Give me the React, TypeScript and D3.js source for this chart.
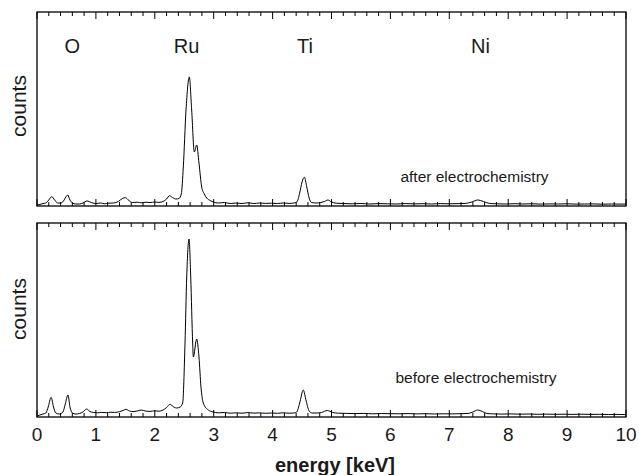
import React from "react";
import * as d3 from "d3";

const energyAfter = [0.00,0.05,0.10,0.15,0.20,0.25,0.30,0.35,0.40,0.45,0.49,0.52,0.56,0.60,0.66,0.72,0.78,0.85,0.92,1.00,1.08,1.15,1.22,1.30,1.38,1.45,1.50,1.56,1.62,1.70,1.78,1.85,1.92,2.00,2.07,2.14,2.20,2.25,2.30,2.36,2.41,2.45,2.484,2.53,2.586,2.626,2.671,2.711,2.75,2.796,2.84,2.881,2.94,2.993,3.08,3.18,3.28,3.38,3.48,3.58,3.68,3.78,3.88,3.98,4.08,4.18,4.28,4.36,4.41,4.46,4.50,4.54,4.58,4.62,4.66,4.74,4.82,4.88,4.94,5.00,5.08,5.2,5.35,5.5,5.65,5.8,5.95,6.1,6.25,6.4,6.55,6.7,6.85,7.0,7.15,7.28,7.38,7.48,7.58,7.68,7.8,7.95,8.1,8.25,8.4,8.55,8.7,8.85,9.0,9.15,9.3,9.45,9.6,9.75,9.9,10.0];
const countsAfter = [1.0,1.5,2.5,3.0,6.0,9.3,6.0,3.0,3.0,5.0,9.0,11.0,6.0,3.0,2.0,2.0,3.0,5.0,3.5,2.5,3.0,2.2,2.8,3.0,4.5,7.5,8.3,5.5,3.5,3.8,3.2,3.8,3.4,4.0,3.6,4.5,7.0,10.3,8.5,7.0,7.5,12,39,96,129,96,54,61,43,19,12,8,5.5,4,3,3.5,2.5,3.0,2.5,3.2,2.5,3.0,2.6,2.8,2.5,3.0,2.6,3.0,4.0,13,24,28.7,19,8,3.5,3.0,3.5,4.5,6.0,4.0,2.8,2.5,2.2,2.5,2.0,2.4,2.2,2.0,2.4,2.1,2.3,2.0,2.4,2.2,2.4,2.6,4.0,6.0,4.5,2.6,2.2,2.0,2.3,2.0,2.2,1.9,2.1,2.0,2.2,1.9,2.0,2.1,1.8,2.0,1.9,2.0];

const energyBefore = [0.00,0.05,0.10,0.15,0.19,0.24,0.28,0.32,0.38,0.44,0.48,0.526,0.56,0.60,0.66,0.72,0.78,0.84,0.90,0.96,1.03,1.10,1.18,1.25,1.32,1.40,1.46,1.51,1.57,1.63,1.70,1.77,1.84,1.92,2.00,2.07,2.14,2.20,2.26,2.31,2.37,2.43,2.473,2.513,2.542,2.581,2.61,2.643,2.654,2.711,2.75,2.784,2.823,2.908,2.99,3.08,3.18,3.28,3.38,3.48,3.58,3.68,3.78,3.88,3.98,4.08,4.18,4.28,4.36,4.41,4.46,4.52,4.57,4.62,4.67,4.75,4.83,4.93,5.02,5.12,5.25,5.4,5.55,5.7,5.85,6.0,6.15,6.3,6.45,6.6,6.75,6.9,7.05,7.2,7.32,7.4,7.48,7.56,7.64,7.75,7.9,8.05,8.2,8.35,8.5,8.65,8.8,8.95,9.1,9.25,9.4,9.55,9.7,9.85,10.0];
const countsBefore = [1.0,2.0,3.0,4.0,10,19.7,10,4,3,5,13,22,10,4,3,3.5,5,8,5.5,4.5,4.2,4.6,4.3,4.8,4.6,5.3,6.5,7.7,6,5.4,6,7,6,5.6,6.2,5.8,7,9.5,12.7,10.5,9,10,14,74,140,178,140,74,60,78,60,30,14,7,5,4.2,4.5,3.8,4.2,3.8,4.4,3.9,4.1,3.7,4.0,3.7,4.2,3.8,4.0,5,14,27,16,6,4,4,4.5,6.5,4.5,3.8,3.6,3.4,3.6,3.2,3.5,3.3,3.2,3.4,3.1,3.3,3.0,3.2,3.1,3.3,3.6,5,7,5.5,3.5,3.1,2.9,3.1,2.8,3.0,2.7,2.9,2.7,2.8,2.6,2.8,2.6,2.7,2.5,2.6,2.5];

const elementLabels = ["O", "Ru", "Ti", "Ni"];
const elementEnergies = [0.6, 2.54, 4.55, 7.53];
const panelLabels = ["after electrochemistry", "before electrochemistry"];
const tickValues = [0, 1, 2, 3, 4, 5, 6, 7, 8, 9, 10];

const W = 639;
const H = 475;
const left = 37;
const right = 626;
const panels = [
  { top: 12, bottom: 206, e: energyAfter, c: countsAfter, label: panelLabels[0], labelX: 474.5, labelY: 182, countsY: 106 },
  { top: 223, bottom: 417, e: energyBefore, c: countsBefore, label: panelLabels[1], labelX: 476, labelY: 383, countsY: 309 },
];
const FONT = "'Liberation Sans', Arial, Helvetica, sans-serif";

export default function App() {
  const x = d3.scaleLinear().domain([0, 10]).range([left, right]);
  const minor = d3.range(0, 50 + 1).map((i) => i * 0.2);

  return (
    <svg width={W} height={H} style={{ position: "absolute", left: 0, top: 0, background: "#fff" }}>
      <rect x={0} y={0} width={W} height={H} fill="#fff" />
      {panels.map((p, pi) => {
        const y = d3.scaleLinear().domain([0, 194]).range([p.bottom, p.top]);
        const pts: [number, number][] = p.e.map((e, i) => [e, p.c[i]]);
        const line = d3
          .line<[number, number]>()
          .x((d) => x(d[0]))
          .y((d) => y(d[1]))
          .curve(d3.curveMonotoneX);
        return (
          <g key={pi}>
            <path d={line(pts) || ""} fill="none" stroke="#000" strokeWidth={1} />
            {minor.map((t, i) => {
              const major = Math.abs(t - Math.round(t)) < 1e-6;
              const len = major ? 7 : 4;
              const xx = x(t);
              return (
                <g key={i}>
                  <line x1={xx} x2={xx} y1={p.top} y2={p.top + len} stroke="#000" strokeWidth={1} />
                  <line x1={xx} x2={xx} y1={p.bottom} y2={p.bottom - len} stroke="#000" strokeWidth={1} />
                </g>
              );
            })}
            <rect x={left} y={p.top} width={right - left} height={p.bottom - p.top} fill="none" stroke="#000" strokeWidth={1.3} />
            <text
              transform={`translate(26,${p.countsY}) rotate(-90)`}
              textAnchor="middle"
              fontFamily={FONT}
              fontSize={21}
              fill="#1a1a1a"
            >
              counts
            </text>
            <text x={p.labelX} y={p.labelY} textAnchor="middle" fontFamily={FONT} fontSize={15.5} fill="#1a1a1a">
              {p.label}
            </text>
          </g>
        );
      })}
      {elementLabels.map((l, i) => (
        <text key={l} x={x(elementEnergies[i])} y={53} textAnchor="middle" fontFamily={FONT} fontSize={20} fill="#1a1a1a">
          {l}
        </text>
      ))}
      {tickValues.map((t) => (
        <text key={t} x={x(t)} y={441} textAnchor="middle" fontFamily={FONT} fontSize={19} fill="#1a1a1a">
          {t}
        </text>
      ))}
      <text x={335} y={472} textAnchor="middle" fontFamily={FONT} fontSize={20} fontWeight="bold" fill="#1a1a1a">
        energy [keV]
      </text>
    </svg>
  );
}
